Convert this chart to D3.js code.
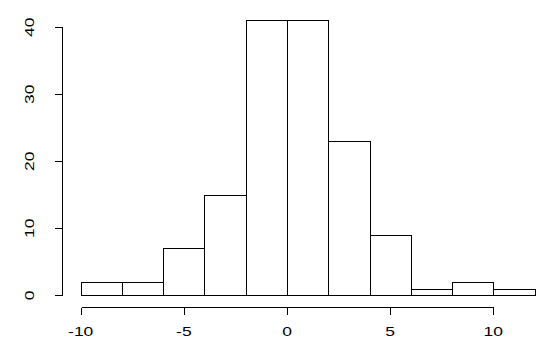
<!DOCTYPE html>
<meta charset="utf-8">
<head>
<style>
body { margin: 0; background: #fff; }
.bar { fill: #fff; stroke: #000; stroke-width: 1; }
.axis path, .axis line { stroke: #000; stroke-width: 1; shape-rendering: crispEdges; }
.axis text { font: 12.5px "Liberation Sans", Arial, sans-serif; fill: #000; }
</style>
</head>
<body>
<svg width="560" height="348"></svg>
<script src="https://d3js.org/d3.v7.min.js"></script>
<script>

var binStarts = [-10, -8, -6, -4, -2, 0, 2, 4, 6, 8, 10];
var binWidth = 2;
var counts = [2, 2, 7, 15, 41, 41, 23, 9, 1, 2, 1];
var xTicks = [-10, -5, 0, 5, 10];
var yTicks = [0, 10, 20, 30, 40];

var svg = d3.select("svg");

var x = d3.scaleLinear().domain([-10, 10]).range([80.7, 493.3]);
var y = d3.scaleLinear().domain([0, 40]).range([295.3, 27.2]);

// R's device font comes out wide, so stretch text along its baseline
var stretch = 1.4;

svg.selectAll(".bar")
  .data(counts)
  .enter().append("rect")
    .attr("class", "bar")
    .attr("x", function(d, i) { return Math.round(x(binStarts[i])) + 0.5; })
    .attr("width", function(d, i) { return Math.round(x(binStarts[i] + binWidth)) - Math.round(x(binStarts[i])); })
    .attr("y", function(d) { return Math.round(y(d)) + 0.5; })
    .attr("height", function(d) { return Math.round(y(0)) - Math.round(y(d)); });

// x axis, R style: line spans first to last tick, offset below the plot
var xAxis = svg.append("g")
    .attr("class", "axis")
    .attr("transform", "translate(0,307.5)");
xAxis.append("line")
    .attr("x1", Math.round(x(-10)) + 0.5).attr("x2", Math.round(x(10)) + 0.5);
xAxis.selectAll(".tick")
  .data(xTicks)
  .enter().append("line")
    .attr("x1", function(d) { return Math.round(x(d)) + 0.5; })
    .attr("x2", function(d) { return Math.round(x(d)) + 0.5; })
    .attr("y1", 0).attr("y2", 7);
xAxis.selectAll("text")
  .data(xTicks)
  .enter().append("text")
    .attr("transform", function(d) { return "translate(" + x(d) + ",28.3) scale(" + stretch + ",1)"; })
    .attr("text-anchor", "middle")
    .text(function(d) { return d < 0 ? "-" + Math.abs(d) : d; });

// y axis
var yAxis = svg.append("g")
    .attr("class", "axis")
    .attr("transform", "translate(62.5,0)");
yAxis.append("line")
    .attr("y1", Math.round(y(0)) + 0.5).attr("y2", Math.round(y(40)) + 0.5);
yAxis.selectAll(".tick")
  .data(yTicks)
  .enter().append("line")
    .attr("y1", function(d) { return Math.round(y(d)) + 0.5; })
    .attr("y2", function(d) { return Math.round(y(d)) + 0.5; })
    .attr("x1", 0).attr("x2", -8);
yAxis.selectAll("text")
  .data(yTicks)
  .enter().append("text")
    .attr("transform", function(d) { return "translate(-28.5," + y(d) + ") rotate(-90) scale(" + stretch + ",1)"; })
    .attr("text-anchor", "middle")
    .text(function(d) { return d; });

</script>
</body>
</html>
